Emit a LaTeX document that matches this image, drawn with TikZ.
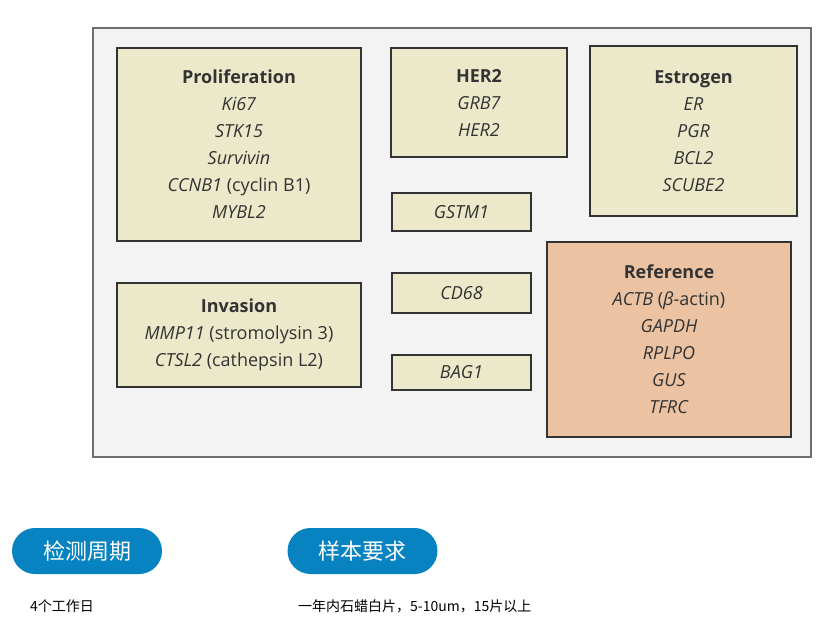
\documentclass[tikz,border=0pt]{standalone}
\usepackage{fontspec}
\setmainfont{Open Sans}
\newfontfamily\cjk{Noto Sans CJK SC}
\usetikzlibrary{positioning}

\definecolor{panelgray}{HTML}{F3F3F3}
\definecolor{framegray}{HTML}{6B6F74}
\definecolor{genefill}{HTML}{EBE9C9}
\definecolor{reffill}{HTML}{EBC3A3}
\definecolor{textgray}{HTML}{333333}
\definecolor{pillblue}{HTML}{0683C0}

\begin{document}
\begin{tikzpicture}[x=1pt, y=-1pt,
    genebox/.style={draw=textgray, line width=1.5pt, fill=genefill, rectangle, align=center,
      text=textgray, font=\fontsize{18}{27}\selectfont, inner sep=0pt},
    pill/.style={fill=pillblue, rounded corners=23pt, minimum width=150pt, minimum height=46pt,
      text=white, font=\cjk\fontsize{22}{24}\selectfont, inner sep=0pt},
    note/.style={anchor=west, text=black, font=\cjk\fontsize{14}{16}\selectfont, inner sep=0pt}]
  \useasboundingbox[fill=white] (0,0) rectangle (832,643);
  % outer panel
  \draw[fill=panelgray, draw=framegray, line width=2pt] (93,28) rectangle (811,457);

  % gene groups
  \node[genebox, minimum width=244pt, minimum height=193pt] (prolif) at (239,144.5)
    {\textbf{Proliferation}\\ \textit{Ki67}\\ \textit{STK15}\\ \textit{Survivin}\\ \textit{CCNB1} (cyclin B1)\\ \textit{MYBL2}};
  \node[genebox, minimum width=176pt, minimum height=109pt] (her2) at (479,102.5)
    {\textbf{HER2}\\ \textit{GRB7}\\ \textit{HER2}};
  \node[genebox, minimum width=207pt, minimum height=170pt] (estrogen) at (693.5,131)
    {\textbf{Estrogen}\\ \textit{ER}\\ \textit{PGR}\\ \textit{BCL2}\\ \textit{SCUBE2}};
  \node[genebox, minimum width=139pt, minimum height=38pt] (gstm) at (461.5,212) {\textit{GSTM1}};
  \node[genebox, minimum width=139pt, minimum height=40pt] (cd68) at (461.5,293) {\textit{CD68}};
  \node[genebox, minimum width=139pt, minimum height=35pt] (bag1) at (461.5,372.5) {\textit{BAG1}};
  \node[genebox, minimum width=244pt, minimum height=104pt] (invasion) at (239,335)
    {\textbf{Invasion}\\ \textit{MMP11} (stromolysin 3)\\ \textit{CTSL2} (cathepsin L2)};
  \node[genebox, fill=reffill, minimum width=244pt, minimum height=195pt] (reference) at (669,339.5)
    {\textbf{Reference}\\ \textit{ACTB} (\textit{β}-actin)\\ \textit{GAPDH}\\ \textit{RPLPO}\\ \textit{GUS}\\ \textit{TFRC}};

  % info below
  \node[pill] (cycle) at (87,551) {检测周期};
  \node[pill] (sample) at (362.5,551) {样本要求};
  \node[note] (cycletext) at (30,606) {4个工作日};
  \node[note] (sampletext) at (298,606) {一年内石蜡白片，5-10um，15片以上};
\end{tikzpicture}
\end{document}
